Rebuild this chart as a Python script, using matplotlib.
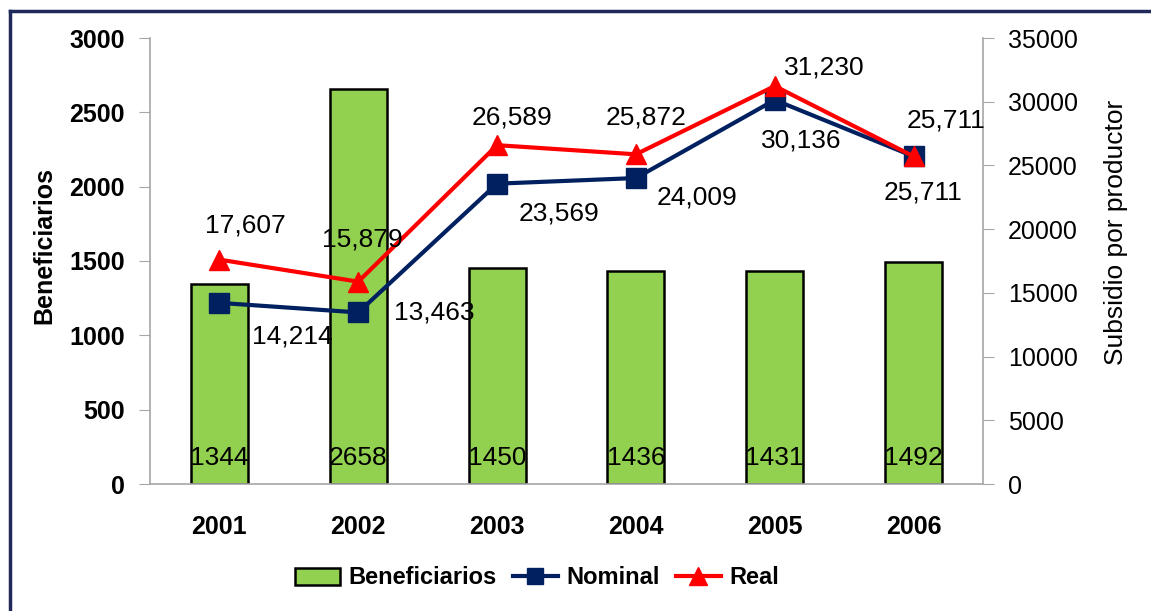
import matplotlib.pyplot as plt
from matplotlib.lines import Line2D
from matplotlib.patches import Patch

plt.rcParams["font.family"] = ["Liberation Sans", "DejaVu Sans"]

years = ["2001", "2002", "2003", "2004", "2005", "2006"]
beneficiarios = [1344, 2658, 1450, 1436, 1431, 1492]
nominal = [14214, 13463, 23569, 24009, 30136, 25711]
real = [17607, 15879, 26589, 25872, 31230, 25711]

# label offsets in pixels (dx right, dy up)
real_off = [(26, 34), (4, 42), (15, 28), (10, 37), (50, 19), (32, 36)]
nom_off = [(73, -34), (76, 0), (62, -30), (61, -19), (26, -41), (9, -36)]

W, H = 1151, 611
fig = plt.figure(figsize=(W / 100, H / 100), dpi=100)
ax = fig.add_axes([150 / W, 1 - 484 / H, (983 - 150) / W, (484 - 38) / H])
ax2 = ax.twinx()

x = list(range(len(years)))
green = "#92D050"
navy = "#002060"
red = "#FF0000"
grey = "#A6A6A6"

ax.bar(x, beneficiarios, width=0.41, color=green, edgecolor="black", linewidth=1.8, zorder=2)
for xi, v in zip(x, beneficiarios):
    ax.text(xi, 175, str(v), ha="center", va="center", fontsize=19, zorder=3)

ax.set_xlim(-0.5, 5.5)
ax.set_ylim(0, 3000)
ax.set_yticks(range(0, 3001, 500))
ax.set_xticks(x)
ax.set_xticklabels(years, fontsize=18, fontweight="bold")
ax.tick_params(axis="x", length=0, pad=22)
ax.tick_params(axis="y", length=8, color=grey, pad=10, labelsize=18)
for lab in ax.get_yticklabels():
    lab.set_fontweight("bold")

ax2.plot(x, nominal, color=navy, lw=3, marker="s", markersize=14, zorder=4)
ax2.plot(x, real, color=red, lw=3, marker="^", markersize=15, zorder=5)
ax2.set_ylim(0, 35000)
ax2.set_yticks(range(0, 35001, 5000))
ax2.tick_params(axis="y", length=8, color=grey, pad=10, labelsize=18)

for xi, v, (dx, dy) in zip(x, real, real_off):
    ax2.annotate(f"{v:,}", (xi, v), xytext=(dx, dy), textcoords="offset pixels",
                 ha="center", va="center", fontsize=19, zorder=6)
for xi, v, (dx, dy) in zip(x, nominal, nom_off):
    ax2.annotate(f"{v:,}", (xi, v), xytext=(dx, dy), textcoords="offset pixels",
                 ha="center", va="center", fontsize=19, zorder=6)

for a in (ax, ax2):
    a.spines["top"].set_visible(False)
    for s in ("left", "right", "bottom"):
        a.spines[s].set_color(grey)
        a.spines[s].set_linewidth(1.2)
ax.spines["right"].set_visible(False)
ax2.spines["left"].set_visible(False)
ax2.spines["bottom"].set_visible(False)

fig.text(44 / W, 1 - 245 / H, "Beneficiarios", rotation=90, ha="center", va="center",
         fontsize=18, fontweight="bold")
fig.text(1116 / W, 1 - 232 / H, "Subsidio por productor", rotation=90, ha="center",
         va="center", fontsize=19)

handles = [
    Patch(facecolor=green, edgecolor="black", linewidth=1.8),
    Line2D([], [], color=navy, lw=3, marker="s", markersize=12),
    Line2D([], [], color=red, lw=3, marker="^", markersize=13),
]
fig.legend(handles, ["Beneficiarios", "Nominal", "Real"], loc="center",
           bbox_to_anchor=(537 / W, 1 - 578 / H), ncol=3, frameon=False,
           prop={"size": 17, "weight": "bold"}, handlelength=1.9,
           handletextpad=0.35, columnspacing=0.7)

# frame edges visible in the original crop
fig.add_artist(Line2D([10 / W, 10 / W], [0, 1 - 11 / H], color="#1F2A5A", lw=2.5,
                      transform=fig.transFigure))
fig.add_artist(Line2D([10 / W, 1], [1 - 11 / H, 1 - 11 / H], color="#1F2A5A", lw=2.5,
                      transform=fig.transFigure))

plt.savefig("out.png", dpi=100)
